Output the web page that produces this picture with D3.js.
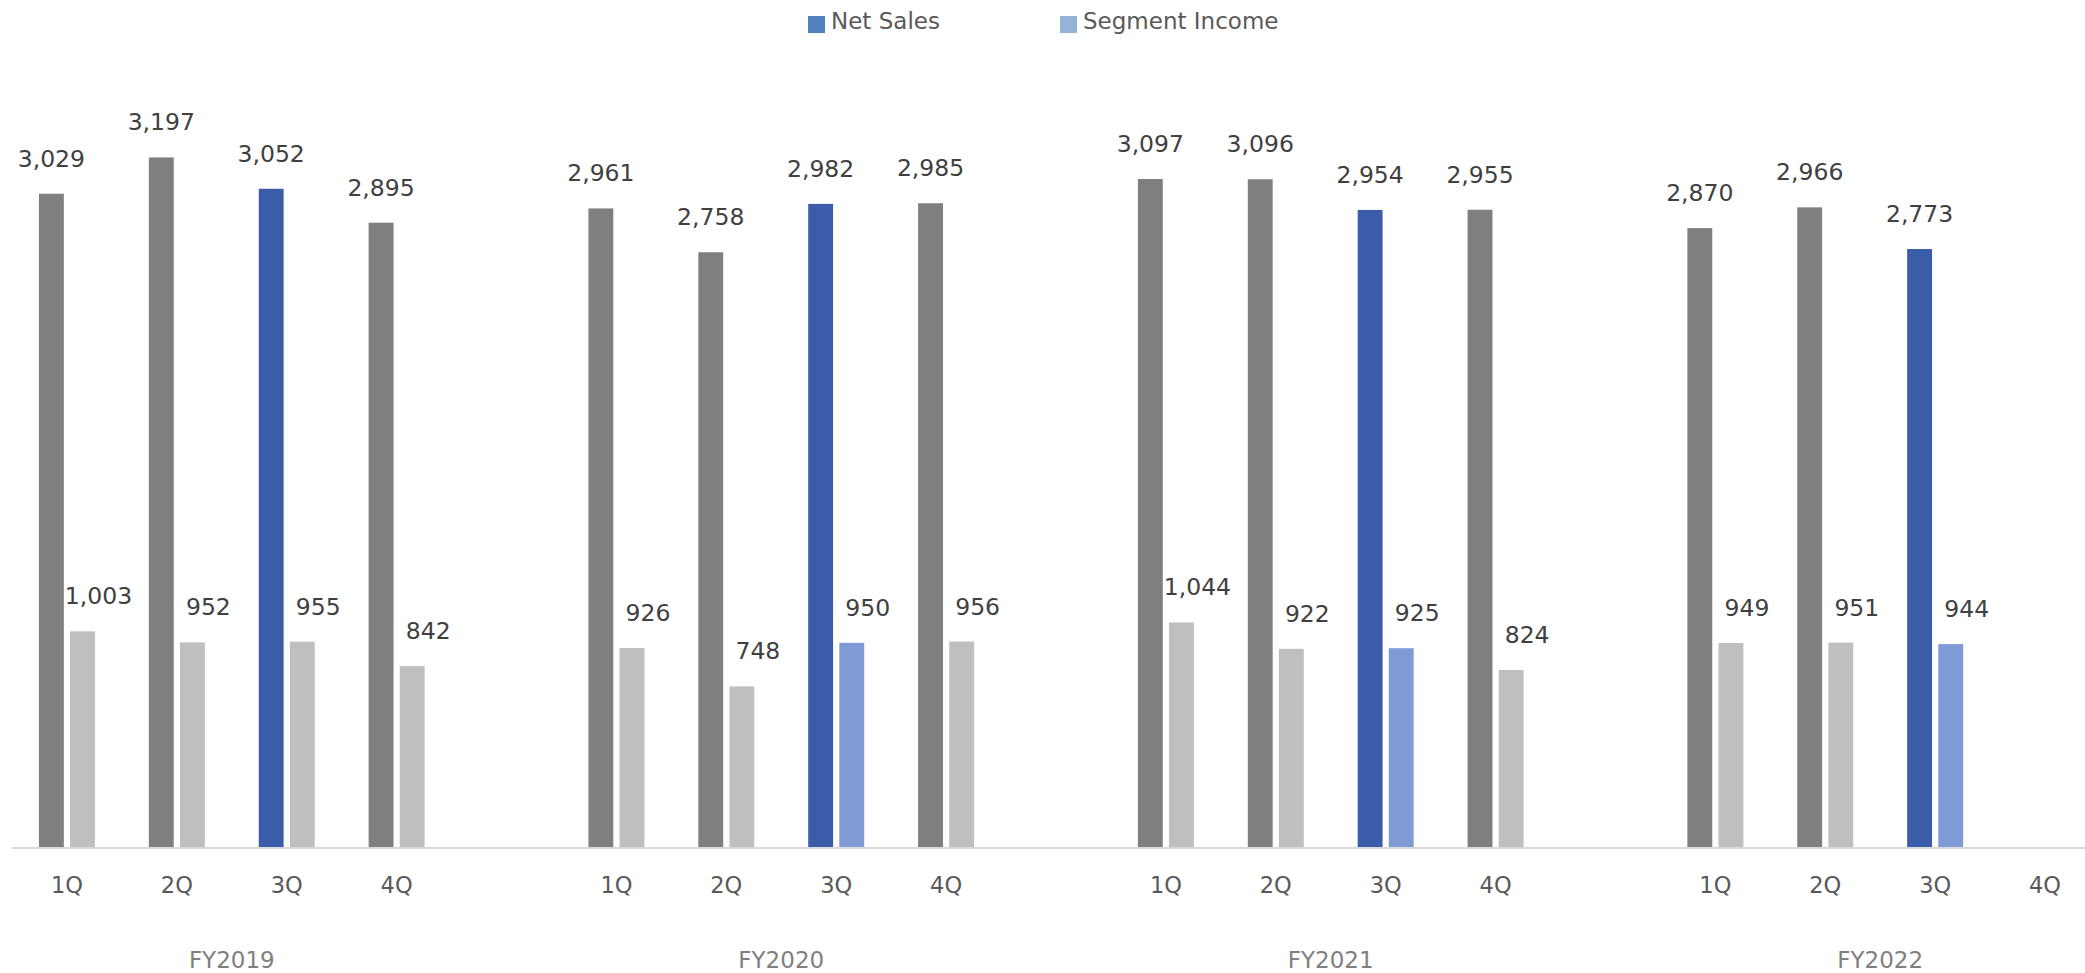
<!DOCTYPE html>
<html>
<head>
<meta charset="utf-8">
<script src="https://cdn.jsdelivr.net/npm/d3@7"></script>
<style>
  html, body { margin: 0; padding: 0; background: #fff; }
  svg { display: block; font-family: "DejaVu Sans", Verdana, sans-serif; }
</style>
</head>
<body>
<svg id="chart" width="2085" height="973"></svg>
<script>
// Quarterly results, by fiscal year
const fiscalYears = ["FY2019", "FY2020", "FY2021", "FY2022"];
const quarters = ["1Q", "2Q", "3Q", "4Q"];
const seriesNames = ["Net Sales", "Segment Income"];

const netSales = [
  [3029, 3197, 3052, 2895],
  [2961, 2758, 2982, 2985],
  [3097, 3096, 2954, 2955],
  [2870, 2966, 2773, null]
];
const segmentIncome = [
  [1003, 952, 955, 842],
  [926, 748, 950, 956],
  [1044, 922, 925, 824],
  [949, 951, 944, null]
];

// Quarter drawn in accent colours, and the years in which each series is accented
const highlightQuarter = "3Q";
const accentYears = {
  "Net Sales": ["FY2019", "FY2020", "FY2021", "FY2022"],
  "Segment Income": ["FY2020", "FY2021", "FY2022"]
};

const W = 2085, H = 973;
const svg = d3.select("#chart");

// Category slots: four quarters per year, with an empty slot between years
const slots = [];
fiscalYears.forEach((fy, i) => {
  quarters.forEach(q => slots.push(fy + "|" + q));
  if (i < fiscalYears.length - 1) slots.push("gap" + i);
});

const x = d3.scaleBand().domain(slots).range([12, 2100]).paddingInner(0).paddingOuter(0);
const x1 = d3.scaleBand().domain(seriesNames).range([-28, 28]).paddingInner(0.2);
const y = d3.scaleLinear().domain([0, 3500]).range([848, 92]);

const colors = {
  "Net Sales": { normal: "#7f7f7f", accent: "#3b5da9", legend: "#4f81bd" },
  "Segment Income": { normal: "#bfbfbf", accent: "#7f9bd5", legend: "#95b3d7" }
};

// Flatten into one record per bar
const bars = [];
fiscalYears.forEach((fy, i) => {
  quarters.forEach((q, j) => {
    const vals = [netSales[i][j], segmentIncome[i][j]];
    seriesNames.forEach((s, k) => {
      if (vals[k] != null) bars.push({ fy, q, series: s, value: vals[k], key: fy + "|" + q });
    });
  });
});

const center = key => x(key) + x.bandwidth() / 2;
const fmt = d3.format(",");
const isAccent = d => d.q === highlightQuarter && accentYears[d.series].includes(d.fy);

// Bars
svg.append("g").selectAll("rect").data(bars).join("rect")
  .attr("x", d => center(d.key) + x1(d.series))
  .attr("y", d => y(d.value))
  .attr("width", x1.bandwidth())
  .attr("height", d => y(0) - y(d.value))
  .attr("fill", d => isAccent(d) ? colors[d.series].accent : colors[d.series].normal);

// Value labels
svg.append("g").selectAll("text").data(bars).join("text")
  .attr("x", d => center(d.key) + x1(d.series) + x1.bandwidth() / 2 + (d.series === "Segment Income" ? 16 : 0))
  .attr("y", d => y(d.value) - 27)
  .attr("text-anchor", "middle")
  .attr("font-size", 23.5)
  .attr("fill", "#404040")
  .text(d => fmt(d.value));

// Baseline
const axis = d3.axisBottom(x).tickSize(0).tickFormat("");
const axisG = svg.append("g").attr("transform", `translate(0,${y(0)})`).call(axis);
axisG.select(".domain").attr("stroke", "#d9d9d9").attr("stroke-width", 2)
  .attr("d", `M12,0H${W}`);

// Quarter labels
const quarterKeys = slots.filter(s => !s.startsWith("gap"));
svg.append("g").selectAll("text").data(quarterKeys).join("text")
  .attr("x", d => center(d))
  .attr("y", 893)
  .attr("text-anchor", "middle")
  .attr("font-size", 22.5)
  .attr("fill", "#595959")
  .text(d => d.split("|")[1]);

// Fiscal-year labels centred under their quarters
svg.append("g").selectAll("text").data(fiscalYears).join("text")
  .attr("x", fy => (center(fy + "|" + quarters[0]) + center(fy + "|" + quarters[quarters.length - 1])) / 2)
  .attr("y", 968)
  .attr("text-anchor", "middle")
  .attr("font-size", 23)
  .attr("fill", "#7f7f7f")
  .text(fy => fy);

// Legend
const legendX = [808, 1060];
const legend = svg.append("g").selectAll("g").data(seriesNames).join("g")
  .attr("transform", (d, i) => `translate(${legendX[i]},16)`);
legend.append("rect").attr("width", 17).attr("height", 17)
  .attr("fill", d => colors[d].legend);
legend.append("text").attr("x", 23).attr("y", 13)
  .attr("font-size", 23).attr("fill", "#595959")
  .text(d => d);
</script>
</body>
</html>
